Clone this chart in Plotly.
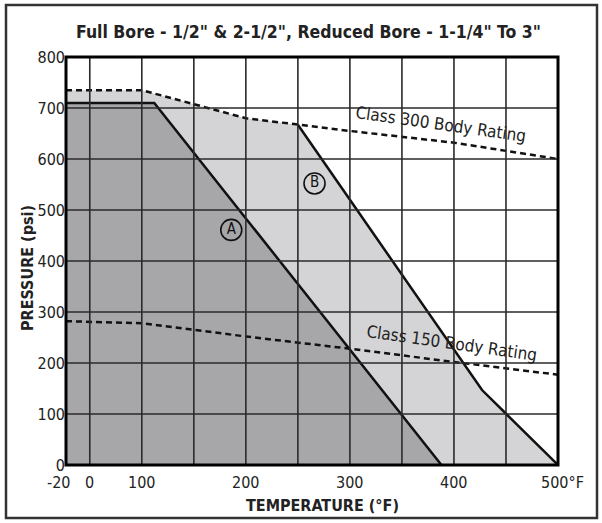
import numpy as np
import plotly.graph_objects as go

# ---------------- data ----------------
# Non-linear temperature scale used by the original chart
TEMP_BREAKS = [-20, 0, 100, 500]
POS_BREAKS = [-0.457, 0, 1, 9]

A_TEMP = [-20, 112, 388]
A_PSI = [710, 710, 0]

B_TEMP = [250, 427, 500]
B_PSI = [667, 147, 0]

C300_TEMP = [-20, 100, 200, 300, 400, 500]
C300_PSI = [735, 735, 680, 655, 632, 600]

C150_TEMP = [-20, 100, 200, 300, 400, 500]
C150_PSI = [282, 278, 252, 228, 202, 177]

X_TICK_TEMPS = [-20, 0, 100, 200, 300, 400, 500]
X_TICK_TEXT = ["-20", "0", "100", "200", "300", "400", "500°F"]
X_GRID_TEMPS = [0, 100, 150, 200, 250, 300, 350, 400, 450]
Y_TICKS = [0, 100, 200, 300, 400, 500, 600, 700, 800]

TITLE = 'Full Bore - 1/2" & 2-1/2", Reduced Bore - 1-1/4" To 3"'
X_TITLE = "TEMPERATURE (°F)"
Y_TITLE = "PRESSURE (psi)"

LABEL_A = ("A", 186, 461)
LABEL_B = ("B", 266, 552)
CLASS300_LABEL = ("Class 300 Body Rating", 388, 669)
CLASS150_LABEL = ("Class 150 Body Rating", 398, 240)


def tpos(t):
    return np.interp(np.asarray(t, dtype=float), TEMP_BREAKS, POS_BREAKS)


# ---------------- styling ----------------
FONT = "Liberation Sans Narrow, DejaVu Sans Condensed, Arial Narrow, sans-serif"
DARK_FILL = "#a7a7aa"
LIGHT_FILL = "#d4d4d6"
INK = "#111111"
W, H = 602, 523
ML, MR, MT, MB = 66, 44, 57, 58
PW, PH = W - ML - MR, H - MT - MB


def px_to_paper_x(px):
    return (px - ML) / PW


def px_to_paper_y(py):
    return (H - MB - py) / PH


fig = go.Figure()

# light region (envelope of B and class 300)
b_poly_t = [TEMP_BREAKS[0]] + [t for t in C300_TEMP if t < B_TEMP[0]] + B_TEMP
b_poly_p = [0] + [p for t, p in zip(C300_TEMP, C300_PSI) if t < B_TEMP[0]] + B_PSI
fig.add_trace(go.Scatter(x=tpos(b_poly_t), y=b_poly_p, fill="toself", fillcolor=LIGHT_FILL,
                         mode="lines", line=dict(width=0), hoverinfo="skip", showlegend=False))

# dark region under A
a_poly_t = [A_TEMP[0]] + A_TEMP
a_poly_p = [0] + A_PSI
fig.add_trace(go.Scatter(x=tpos(a_poly_t), y=a_poly_p, fill="toself", fillcolor=DARK_FILL,
                         mode="lines", line=dict(width=0), hoverinfo="skip", showlegend=False))

# rating lines
fig.add_trace(go.Scatter(x=tpos(C300_TEMP), y=C300_PSI, mode="lines",
                         line=dict(color=INK, width=2.5, dash="6px,4px"), showlegend=False))
fig.add_trace(go.Scatter(x=tpos(C150_TEMP), y=C150_PSI, mode="lines",
                         line=dict(color=INK, width=2.5, dash="6px,4px"), showlegend=False))
fig.add_trace(go.Scatter(x=tpos(A_TEMP), y=A_PSI, mode="lines",
                         line=dict(color=INK, width=2.5), showlegend=False))
fig.add_trace(go.Scatter(x=tpos(B_TEMP), y=B_PSI, mode="lines",
                         line=dict(color=INK, width=2.5), showlegend=False))

# circled curve labels
for lab in (LABEL_A, LABEL_B):
    fig.add_trace(go.Scatter(x=tpos([lab[1]]), y=[lab[2]], mode="markers+text", text=[lab[0]],
                             textposition="middle center",
                             textfont=dict(family=FONT, size=15, color=INK),
                             marker=dict(symbol="circle", size=21, color="rgba(0,0,0,0)",
                                         line=dict(color=INK, width=1.6)),
                             showlegend=False, hoverinfo="skip"))

shapes = []
for t in X_GRID_TEMPS:
    xp = float(tpos(t))
    shapes.append(dict(type="line", xref="x", yref="y", x0=xp, x1=xp, y0=Y_TICKS[0], y1=Y_TICKS[-1],
                       line=dict(color="#2a2a2a", width=1.6), layer="above"))
for v in Y_TICKS[1:-1]:
    shapes.append(dict(type="line", xref="paper", yref="y", x0=0, x1=1, y0=v, y1=v,
                       line=dict(color="#2a2a2a", width=1.6), layer="above"))
# plot border
shapes.append(dict(type="rect", xref="paper", yref="paper", x0=0, x1=1, y0=0, y1=1,
                   line=dict(color="#000", width=3), layer="above"))
# outer frame
shapes.append(dict(type="rect", xref="paper", yref="paper",
                   x0=px_to_paper_x(6), x1=px_to_paper_x(597),
                   y0=px_to_paper_y(518), y1=px_to_paper_y(5),
                   line=dict(color="#333", width=2.5), layer="above"))

annotations = []
annotations.append(dict(text="<b>" + TITLE + "</b>", xref="paper", yref="paper",
                        x=px_to_paper_x(308), y=px_to_paper_y(32), xanchor="center", yanchor="middle",
                        showarrow=False, font=dict(family=FONT, size=17.5, color="#222")))
for t, s in zip(X_TICK_TEMPS, X_TICK_TEXT):
    shift = -7 if t == X_TICK_TEMPS[0] else (4 if t == X_TICK_TEMPS[-1] else 0)
    annotations.append(dict(text=s, xref="x", yref="paper", x=float(tpos(t)), y=px_to_paper_y(482),
                            xanchor="center", yanchor="middle", xshift=shift, showarrow=False,
                            font=dict(family=FONT, size=16, color="#222")))
annotations.append(dict(text="<b>" + X_TITLE + "</b>", xref="paper", yref="paper",
                        x=px_to_paper_x(322), y=px_to_paper_y(505), xanchor="center", yanchor="middle",
                        showarrow=False, font=dict(family=FONT, size=16, color="#222")))
annotations.append(dict(text="<b>" + Y_TITLE + "</b>", xref="paper", yref="paper",
                        x=px_to_paper_x(27), y=px_to_paper_y(268), xanchor="center", yanchor="middle",
                        textangle=-90, showarrow=False, font=dict(family=FONT, size=16, color="#222")))
for txt, t, p in (CLASS300_LABEL, CLASS150_LABEL):
    annotations.append(dict(text=txt, xref="x", yref="y", x=float(tpos(t)), y=p,
                            xanchor="center", yanchor="middle", textangle=8, showarrow=False,
                            font=dict(family=FONT, size=17, color="#222")))

fig.update_layout(
    width=W, height=H,
    margin=dict(l=ML, r=MR, t=MT, b=MB),
    paper_bgcolor="white", plot_bgcolor="white",
    shapes=shapes, annotations=annotations,
    xaxis=dict(range=[POS_BREAKS[0], POS_BREAKS[-1]], showgrid=False, zeroline=False,
               showline=False, showticklabels=False, ticks=""),
    yaxis=dict(range=[Y_TICKS[0], Y_TICKS[-1]], tickvals=Y_TICKS, showgrid=False, zeroline=False,
               showline=False, ticks="", tickfont=dict(family=FONT, size=16, color="#222")),
)

fig.write_html("out.html", config={"displayModeBar": False, "staticPlot": True},
               post_script="document.body.style.margin='0';document.body.style.overflow='hidden';")
